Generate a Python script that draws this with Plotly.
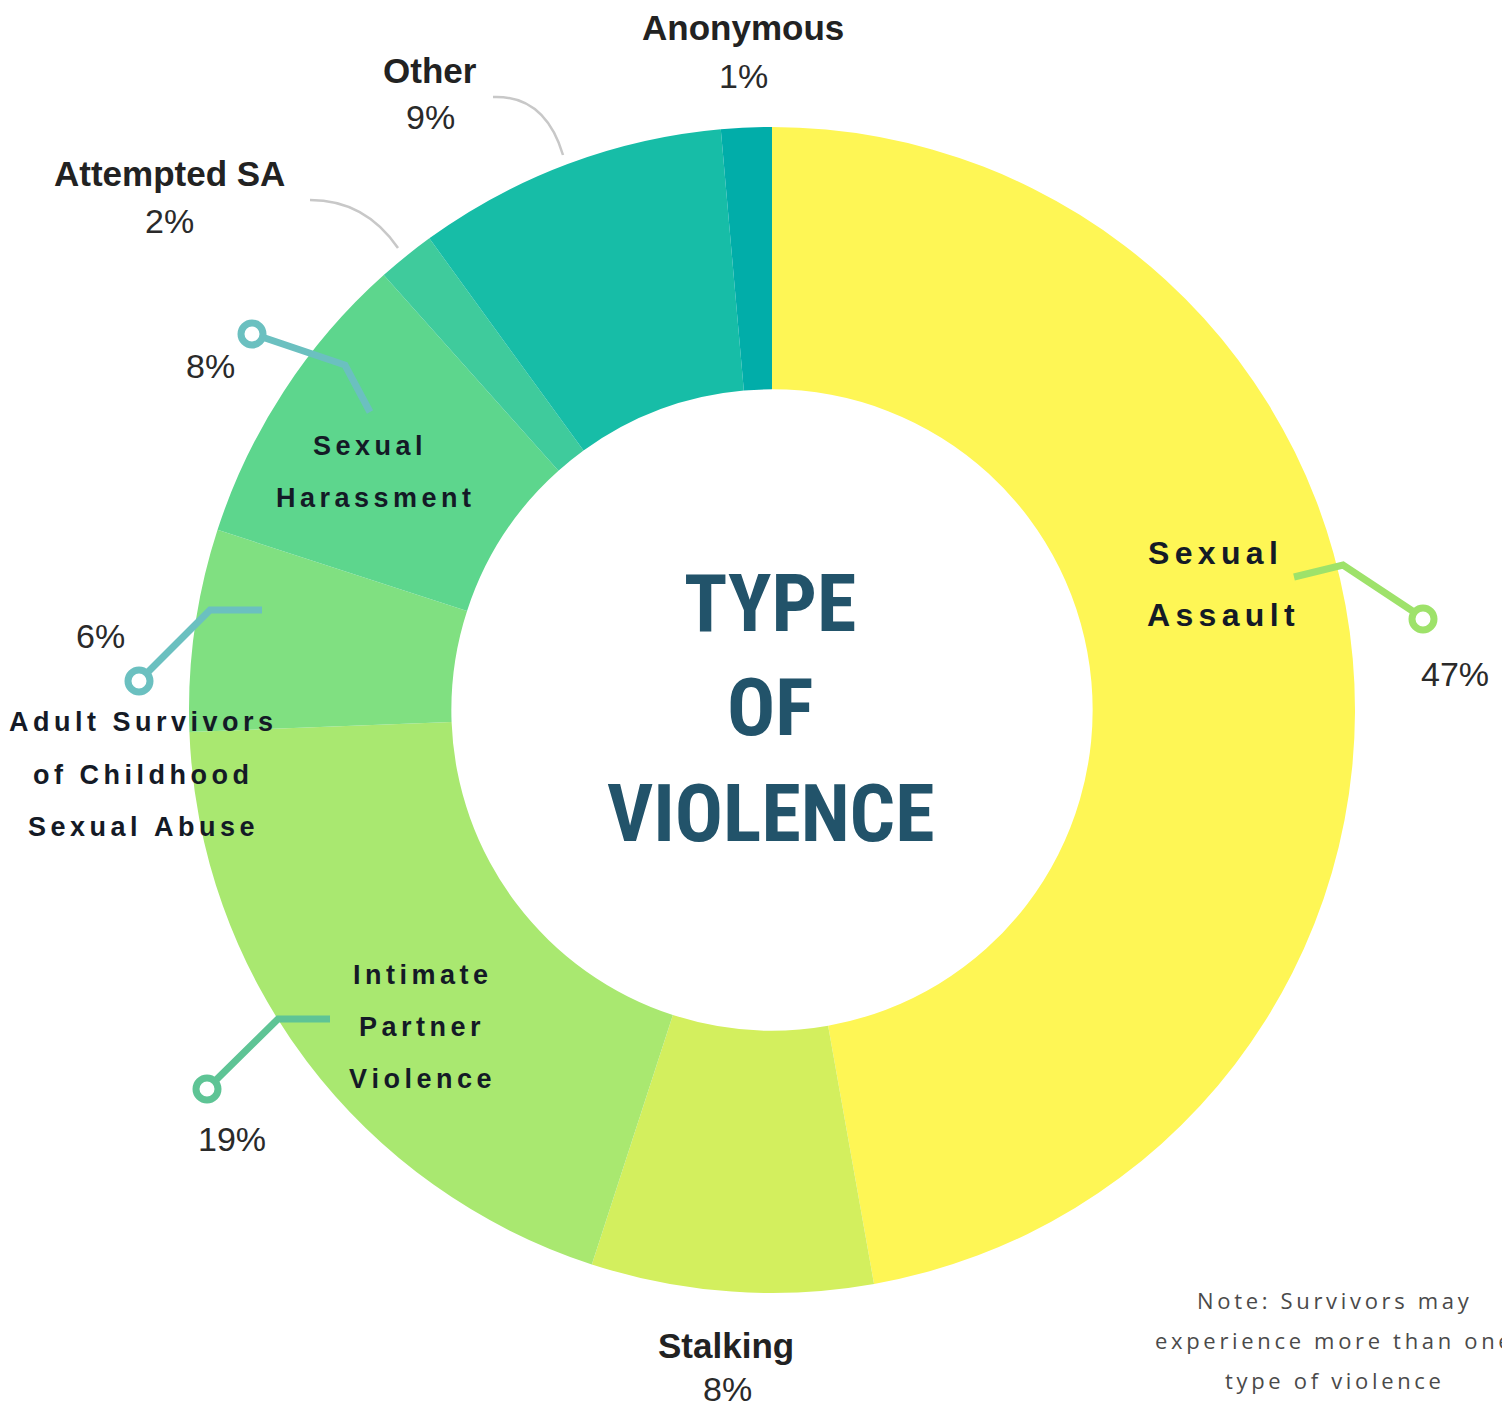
import plotly.graph_objects as go

# ---- data ----
categories = ["Sexual Assault", "Stalking", "Intimate Partner Violence",
              "Adult Survivors of Childhood Sexual Abuse", "Sexual Harassment",
              "Attempted SA", "Other", "Anonymous"]
values = [47.2, 7.8, 19.4, 5.6, 8.4, 1.6, 8.6, 1.4]
pct_labels = ["47%", "8%", "19%", "6%", "8%", "2%", "9%", "1%"]
colors = ["#FEF655", "#D3EF5E", "#A9E870", "#80E081", "#5DD68D",
          "#3FCB9C", "#17BDA7", "#01ADA9"]

# page has an 8px body margin; work in window pixel coordinates
OFF = 8
WIN_W, WIN_H = 1510, 1409
W, H = WIN_W - OFF, WIN_H - OFF
cx, cy, R = 772, 710, 583

fig = go.Figure()
fig.add_trace(go.Pie(
    labels=categories, values=values, sort=False, direction="clockwise",
    rotation=0, hole=0.55, textinfo="none", hoverinfo="label+percent",
    marker=dict(colors=colors, line=dict(width=0)),
    domain=dict(x=[(cx - R - OFF) / W, (cx + R - OFF) / W],
                y=[1 - (cy + R - OFF) / H, 1 - (cy - R - OFF) / H]),
    showlegend=False,
))

fig.add_trace(go.Scatter(x=[OFF, WIN_W], y=[OFF, WIN_H], mode="markers",
                         marker=dict(opacity=0), hoverinfo="skip",
                         showlegend=False))

SP = "\u2006"


def spaced(s, sp=SP):
    return sp.join(list(s))


ann = []
FAM = "Liberation Sans, Arial, sans-serif"
BOLD = dict(family=FAM, size=35, color="#222222", weight="bold")
REG = dict(family=FAM, size=34, color="#2a2a2a")
LBL = dict(family=FAM, size=27, color="#141a26", weight="bold")
LBL_BIG = dict(family=FAM, size=32, color="#141a26", weight="bold")


def add(text, x, y, font, xanchor="center"):
    ann.append(dict(text=text, x=x, y=y, xref="x", yref="y", showarrow=False,
                    xanchor=xanchor, yanchor="middle", font=font))


# outer labels
add(categories[7], 743, 27, BOLD); add(pct_labels[7], 743, 76, REG)
add(categories[6], 430, 70, BOLD); add(pct_labels[6], 430, 117, REG)
add(categories[5], 169, 173, BOLD); add(pct_labels[5], 169, 221, REG)
add(categories[1], 726, 1345, BOLD); add(pct_labels[1], 727, 1389, REG)
add(pct_labels[4], 210, 366, REG)
add(pct_labels[3], 100, 636, REG)
add(pct_labels[2], 232, 1139, REG)
add(pct_labels[0], 1455, 674, REG)

# letter-spaced in-slice labels
add(spaced("Sexual"), 1146, 553, LBL_BIG, "left")
add(spaced("Assault"), 1145, 615, LBL_BIG, "left")
add(spaced("Sexual"), 368, 446, LBL)
add(spaced("Harassment"), 373, 498, LBL)
add(spaced("Adult Survivors"), 141, 722, LBL)
add(spaced("of Childhood"), 141, 775, LBL)
add(spaced("Sexual Abuse"), 141, 827, LBL)
add(spaced("Intimate"), 420, 975, LBL)
add(spaced("Partner"), 420, 1027, LBL)
add(spaced("Violence"), 420, 1079, LBL)

# center title
TITLE = dict(family="Liberation Sans Narrow, Roboto Condensed, DejaVu Sans Condensed, sans-serif",
             size=80, color="#22536A", weight="bold")
add("TYPE", 770, 604, TITLE)
add("OF", 770, 708, TITLE)
add("VIOLENCE", 770, 814, TITLE)

# note
NOTE = dict(family="Open Sans, Lato, sans-serif", size=22, color="#4a4a4a")
add(spaced("Note: Survivors may", "\u2006"), 1333, 1300, NOTE)
add(spaced("experience more than one", "\u2006"), 1333, 1340, NOTE)
add(spaced("type of violence", "\u2006"), 1333, 1380, NOTE)

# leader lines
shapes = []


def leader(path, color):
    shapes.append(dict(type="path", path=path, xref="x", yref="y", layer="above",
                       line=dict(color=color, width=7), fillcolor="rgba(0,0,0,0)"))


def ring(x, y, color):
    r = 11
    shapes.append(dict(type="circle", xref="x", yref="y", layer="above",
                       x0=x - r, x1=x + r, y0=y - r, y1=y + r,
                       line=dict(color=color, width=7), fillcolor="white"))


def curve(path):
    shapes.append(dict(type="path", path=path, xref="x", yref="y", layer="above",
                       line=dict(color="#C8C8C8", width=2.5), fillcolor="rgba(0,0,0,0)"))


leader("M 1294 577 L 1343 565 L 1414 612", "#9EE26A"); ring(1423, 619, "#9EE26A")
leader("M 370 412 L 345 365 L 262 337", "#6BC0C0"); ring(252, 334, "#6BC0C0")
leader("M 262 610 L 210 610 L 146 674", "#6BC0C0"); ring(139, 681, "#6BC0C0")
leader("M 330 1019 L 278 1019 L 214 1082", "#5EC495"); ring(207, 1089, "#5EC495")
curve("M 493 97 Q 545 95 563 155")
curve("M 310 200 Q 365 200 398 248")

fig.update_layout(
    width=W, height=H, margin=dict(l=0, r=0, t=0, b=0),
    paper_bgcolor="white", plot_bgcolor="rgba(0,0,0,0)",
    xaxis=dict(range=[OFF, WIN_W], visible=False, fixedrange=True, domain=[0, 1]),
    yaxis=dict(range=[WIN_H, OFF], visible=False, fixedrange=True, domain=[0, 1]),
    annotations=ann, shapes=shapes,
)

fig.write_html("out.html")
